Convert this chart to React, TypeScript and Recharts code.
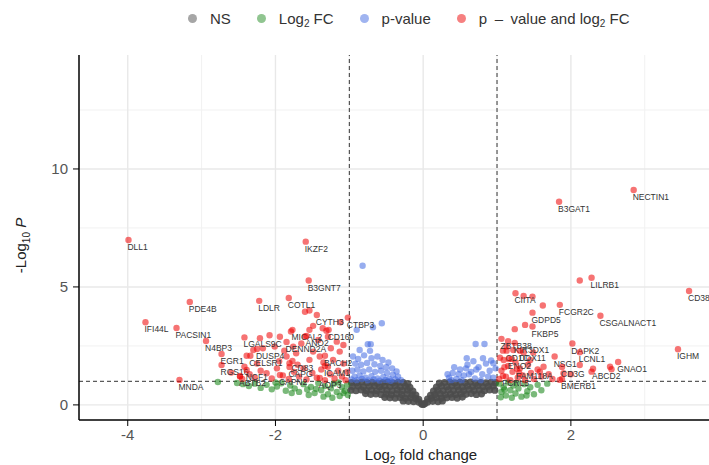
import React from "react";
import {
  CartesianGrid,
  Legend,
  ReferenceLine,
  Scatter,
  ScatterChart,
  XAxis,
  YAxis,
} from "recharts";

const xTicks = [-4, -2, 0, 2];
const yTicks = [0, 5, 10];
const xMajor = [-4, -2, 0, 2];
const xMinor = [-3, -1, 1, 3];
const yMajor = [0, 5, 10];
const yMinor = [2.5, 7.5, 12.5];
const fcCutoff = 1;
const pCutoff = 1;

// not significant
const nsPoints: [number, number][] = [
  [-0.97, 0.95], [-0.9, 0.93], [-0.83, 0.97], [-0.76, 0.94], [-0.69, 0.96], [-0.62, 0.92], [-0.55, 0.95], [-0.48, 0.97], [-0.41, 0.93], [-0.34, 0.96], [-0.27, 0.94], [-0.21, 0.9],
  [0.22, 0.92], [0.29, 0.95], [0.36, 0.97], [0.43, 0.93], [0.5, 0.96], [0.57, 0.94], [0.64, 0.97], [0.71, 0.92], [0.78, 0.95], [0.85, 0.93], [0.92, 0.96], [0.98, 0.94],
  [-0.96, 0.78], [-0.88, 0.8], [-0.81, 0.76], [-0.73, 0.79], [-0.66, 0.81], [-0.59, 0.77], [-0.52, 0.8], [-0.45, 0.78], [-0.38, 0.82], [-0.31, 0.76], [-0.24, 0.79], [-0.18, 0.74],
  [0.18, 0.75], [0.25, 0.8], [0.32, 0.77], [0.39, 0.81], [0.46, 0.78], [0.53, 0.76], [0.6, 0.8], [0.67, 0.78], [0.74, 0.82], [0.81, 0.77], [0.88, 0.79], [0.95, 0.8],
  [-0.98, 0.62], [-0.91, 0.6], [-0.84, 0.64], [-0.77, 0.61], [-0.7, 0.63], [-0.63, 0.6], [-0.56, 0.65], [-0.49, 0.62], [-0.42, 0.6], [-0.35, 0.64], [-0.28, 0.61], [-0.21, 0.63], [-0.14, 0.58],
  [0.14, 0.58], [0.2, 0.62], [0.27, 0.6], [0.34, 0.64], [0.41, 0.61], [0.48, 0.63], [0.55, 0.6], [0.62, 0.65], [0.69, 0.61], [0.76, 0.63], [0.83, 0.6], [0.9, 0.64], [0.97, 0.62],
  [-0.78, 0.48], [-0.71, 0.45], [-0.64, 0.47], [-0.57, 0.44], [-0.5, 0.46], [-0.43, 0.43], [-0.36, 0.47], [-0.29, 0.44], [-0.22, 0.46], [-0.15, 0.43], [-0.1, 0.42],
  [0.1, 0.41], [0.16, 0.44], [0.23, 0.47], [0.3, 0.43], [0.37, 0.46], [0.44, 0.44], [0.51, 0.47], [0.58, 0.45], [0.65, 0.48], [0.72, 0.44], [0.79, 0.47],
  [-0.52, 0.32], [-0.45, 0.3], [-0.38, 0.29], [-0.31, 0.31], [-0.24, 0.28], [-0.17, 0.3], [-0.1, 0.27], [-0.06, 0.24],
  [0.06, 0.25], [0.11, 0.28], [0.18, 0.31], [0.25, 0.29], [0.32, 0.3], [0.39, 0.32], [0.46, 0.29], [0.53, 0.33],
  [-0.27, 0.17], [-0.2, 0.15], [-0.13, 0.14], [-0.06, 0.12], [0.06, 0.12], [0.13, 0.15], [0.2, 0.14], [0.26, 0.17],
  [-0.02, 0.04], [0.02, 0.05], [0.0, 0.02],
];

// |log2FC| > 1 only
const fcPoints: [number, number][] = [
  [-2.78, 0.97], [-2.52, 0.93], [-2.44, 0.88], [-2.36, 0.8], [-2.28, 0.9], [-2.2, 0.72], [-2.12, 0.85], [-2.05, 0.66], [-1.98, 0.78], [-1.92, 0.92],
  [-1.86, 0.6], [-1.8, 0.82], [-1.74, 0.7], [-1.68, 0.55], [-1.62, 0.88], [-1.57, 0.65], [-1.52, 0.76], [-1.47, 0.5], [-1.42, 0.93], [-1.38, 0.62],
  [-1.33, 0.8], [-1.29, 0.45], [-1.25, 0.7], [-1.21, 0.9], [-1.17, 0.55], [-1.13, 0.38], [-1.1, 0.75], [-1.06, 0.6], [-1.03, 0.85], [-1.02, 0.42],
  [-1.15, 0.95], [-1.35, 0.35], [-1.55, 0.42], [-1.78, 0.5], [-2.0, 0.95], [-1.45, 0.68], [-1.23, 0.3], [-1.08, 0.5],
  [1.03, 0.9], [1.06, 0.55], [1.09, 0.75], [1.12, 0.4], [1.15, 0.95], [1.18, 0.62], [1.22, 0.82], [1.25, 0.48], [1.29, 0.7], [1.33, 0.35],
  [1.37, 0.88], [1.41, 0.58], [1.45, 0.75], [1.5, 0.45], [1.55, 0.85], [1.6, 0.62], [1.05, 0.32], [1.2, 0.3], [1.4, 0.4], [1.68, 0.9],
  [1.1, 0.65], [1.27, 0.93],
];

// p-value only
const pPoints: [number, number][] = [
  [-0.82, 5.9], [-0.56, 3.46], [-0.68, 3.29], [-0.9, 3.18], [-0.75, 2.57], [-0.71, 2.57], [-0.72, 2.29], [-0.86, 2.33],
  [-0.95, 2.05], [-0.88, 1.95], [-0.8, 2.1], [-0.7, 1.98], [-0.62, 2.05], [-0.55, 1.9], [-0.47, 1.8], [-0.92, 1.75], [-0.84, 1.7], [-0.76, 1.78],
  [-0.66, 1.72], [-0.58, 1.65], [-0.5, 1.6], [-0.42, 1.55], [-0.36, 1.42], [-0.96, 1.45], [-0.89, 1.5], [-0.81, 1.42], [-0.73, 1.5], [-0.65, 1.4],
  [-0.57, 1.45], [-0.49, 1.35], [-0.41, 1.28], [-0.34, 1.2], [-0.93, 1.2], [-0.86, 1.25], [-0.78, 1.15], [-0.7, 1.22], [-0.62, 1.12], [-0.54, 1.18],
  [-0.46, 1.1], [-0.38, 1.08], [-0.97, 1.08], [-0.9, 1.05], [-0.83, 1.1], [-0.75, 1.04], [-0.67, 1.08], [-0.59, 1.03], [-0.51, 1.06], [-0.44, 1.02], [-0.3, 1.05],
  [0.71, 2.58], [0.83, 2.58], [0.59, 1.98], [0.81, 1.98], [0.95, 1.77],
  [0.35, 1.15], [0.4, 1.35], [0.45, 1.1], [0.5, 1.5], [0.55, 1.25], [0.6, 1.7], [0.65, 1.4], [0.7, 1.12], [0.75, 1.6], [0.8, 1.3],
  [0.85, 1.75], [0.9, 1.45], [0.95, 1.15], [0.98, 1.55], [0.42, 1.6], [0.52, 1.05], [0.62, 1.3], [0.68, 1.85], [0.72, 1.5], [0.78, 1.05],
  [0.88, 1.2], [0.92, 1.88], [0.48, 1.3], [0.58, 1.55], [0.38, 1.05], [0.33, 1.3],
];

// p-value and log2FC, unlabelled
const bothPoints: [number, number][] = [
  [-1.6, 3.95], [-1.54, 4.0], [-1.12, 3.5], [-1.49, 3.35], [-1.36, 3.25], [-1.79, 3.11], [-1.94, 2.89], [-1.54, 3.18], [-1.31, 3.14],
  [-2.21, 2.83], [-2.01, 2.47], [-2.17, 2.4], [-2.3, 2.33], [-2.39, 2.08], [-2.42, 1.62], [-2.48, 1.2], [-2.6, 1.37], [-2.12, 1.34],
  [-1.81, 1.77], [-1.72, 2.19], [-1.76, 2.47], [-1.85, 2.05], [-1.54, 1.91], [-1.49, 2.26], [-1.4, 2.05], [-1.29, 1.62], [-1.22, 1.91], [-1.13, 2.26],
  [-1.29, 2.89], [-1.17, 2.68], [-1.08, 2.54],
  [-2.45, 1.1], [-2.35, 1.3], [-2.28, 1.15], [-2.2, 1.45], [-2.05, 1.12], [-1.98, 1.55], [-1.9, 1.25], [-1.82, 1.1], [-1.75, 1.4], [-1.68, 1.2],
  [-1.62, 1.55], [-1.58, 1.08], [-1.5, 1.35], [-1.44, 1.15], [-1.38, 1.5], [-1.33, 1.05], [-1.26, 1.3], [-1.2, 1.12], [-1.15, 1.45], [-1.1, 1.2],
  [-1.05, 1.05], [-1.03, 1.4], [-1.7, 1.7], [-1.95, 1.85], [-2.25, 1.75], [-1.35, 1.8], [-1.08, 1.75], [-1.65, 2.6], [-1.42, 2.75], [-1.25, 2.4],
  [-2.08, 2.95], [-1.88, 2.3], [-1.6, 2.9],
  [2.12, 5.27], [1.36, 4.62], [1.48, 4.59], [1.62, 4.21], [1.38, 3.39], [1.24, 3.21], [1.36, 2.22], [1.49, 2.22], [1.13, 2.47], [1.22, 2.33],
  [2.53, 1.62], [2.55, 1.51], [2.12, 1.69], [2.28, 1.41], [1.9, 1.34], [1.58, 1.41], [1.63, 1.62], [1.85, 1.06],
  [1.03, 1.1], [1.06, 1.45], [1.09, 1.9], [1.12, 1.2], [1.15, 1.65], [1.18, 1.05], [1.21, 1.4], [1.25, 1.8], [1.28, 1.15], [1.31, 1.55],
  [1.35, 1.25], [1.38, 1.05], [1.42, 1.7], [1.46, 1.35], [1.5, 1.1], [1.55, 1.5], [1.6, 1.2], [1.04, 2.0], [1.1, 1.6], [1.2, 1.95],
  [1.3, 1.35], [1.45, 1.9], [1.7, 1.3], [1.75, 1.1], [2.0, 1.3], [1.15, 2.7], [1.08, 2.3],
];

const geneNames = [
  "DLL1", "IKZF2", "B3GNT7", "COTL1", "LDLR", "PDE4B", "CYTH3", "IFI44L", "PACSIN1", "N4BP3",
  "LGALS9C", "MICAL2", "CD160", "ANO2", "DENND2A", "CTBP3", "EGR1", "DUSP4", "CELSR1", "RGS16",
  "NCF1", "CD83", "CAPG", "BACH2", "ICAM1", "ABTB2", "CAPN2", "AQP3", "MNDA",
  "NECTIN1", "B3GAT1", "LILRB1", "CD38", "CIITA", "FCGR2C", "GDPD5", "CSGALNACT1", "FKBP5", "ZBTB38",
  "DAPK2", "IGHM", "LCNL1", "GNAO1", "NSG1", "KIR3DX1", "DDX11", "CD1C", "ENO2", "FAM118A",
  "CD3G", "ABCD2", "BMERB1", "FCRL5",
];
const geneFC = [
  -3.99, -1.59, -1.55, -1.82, -2.22, -3.16, -1.44, -3.76, -3.34, -2.94,
  -2.42, -1.77, -1.28, -1.58, -1.85, -1.02, -2.73, -2.25, -2.34, -2.73,
  -2.39, -1.77, -1.81, -1.33, -1.33, -2.48, -1.94, -1.4, -3.3,
  2.85, 1.84, 2.28, 3.6, 1.25, 1.85, 1.48, 2.4, 1.48, 1.06,
  2.02, 3.45, 2.12, 2.64, 1.78, 1.24, 1.31, 1.13, 1.16, 1.27,
  1.88, 2.3, 1.88, 1.08,
];
const geneP = [
  6.99, 6.92, 5.27, 4.53, 4.41, 4.36, 3.81, 3.5, 3.26, 2.71,
  2.86, 3.18, 3.18, 2.92, 2.67, 3.7, 2.16, 2.37, 2.08, 1.69,
  1.48, 1.86, 1.61, 2.08, 1.65, 1.23, 1.27, 1.14, 1.06,
  9.11, 8.61, 5.39, 4.83, 4.73, 4.24, 3.91, 3.78, 3.32, 2.8,
  2.6, 2.36, 2.23, 1.82, 2.05, 2.63, 2.29, 2.3, 1.95, 1.53,
  1.61, 1.53, 1.1, 1.23,
];

const toPts = (arr: [number, number][]) => arr.map(([x, y]) => ({ x, y }));
const genes = geneNames.map((gene, i) => ({ gene, x: geneFC[i], y: geneP[i] }));

const colors = {
  ns: "#4d4d4d",
  fc: "#228B22",
  p: "#4169E1",
  both: "#EE0000",
};

const sub = { fontSize: 10, verticalAlign: "-3px", lineHeight: 0 };
const legendItems = [
  { key: "ns", dot: "#a6a6a6", label: <>NS</> },
  { key: "fc", dot: "#90c590", label: <>Log<span style={sub}>2</span> FC</> },
  { key: "p", dot: "#a0b4f0", label: <>p-value</> },
  { key: "both", dot: "#f68080", label: <>p{"\u2002–\u2002"}value and log<span style={sub}>2</span> FC</> },
];

const dot = (fill: string, opacity: number, r = 3.2) => (props: any) => (
  <circle cx={props.cx} cy={props.cy} r={r} fill={fill} fillOpacity={opacity} />
);

function GeneMark(props: any) {
  const { cx, cy, payload } = props;
  return (
    <g>
      <circle cx={cx} cy={cy} r={3.2} fill={colors.both} fillOpacity={0.55} />
      <text x={cx - 1} y={cy + 10} fontSize={8.5} fill="#333" fontFamily="Liberation Sans, Arial, sans-serif">
        {payload.gene}
      </text>
    </g>
  );
}

function TopLegend() {
  return (
    <div style={{ display: "flex", alignItems: "center", paddingLeft: 188, fontSize: 15, color: "#333", height: 20 }}>
      {legendItems.map((item) => (
        <div key={item.key} style={{ display: "flex", alignItems: "center", marginRight: 26 }}>
          <span style={{ width: 9, height: 9, borderRadius: 5, background: item.dot, marginRight: 13, display: "inline-block" }} />
          <span>{item.label}</span>
        </div>
      ))}
    </div>
  );
}

function YTitle(props: any) {
  const vb = props.viewBox || { x: 0, y: 55, width: 79, height: 365 };
  const cx = 26;
  const cy = vb.y + vb.height / 2 + 8;
  return (
    <text x={cx} y={cy} transform={`rotate(-90, ${cx}, ${cy})`} textAnchor="middle" fontSize={15} fill="#222">
      <tspan>-Log</tspan>
      <tspan dy={4} fontSize={10}>10</tspan>
      <tspan dy={-4} fontStyle="italic"> P</tspan>
    </text>
  );
}

function XTitle(props: any) {
  const vb = props.viewBox || { x: 79, y: 420, width: 630, height: 45 };
  return (
    <text x={vb.x + 342} y={vb.y + 40} textAnchor="middle" fontSize={15} fill="#222">
      <tspan>Log</tspan>
      <tspan dy={4} fontSize={10}>2</tspan>
      <tspan dy={-4}> fold change</tspan>
    </text>
  );
}

export default function App() {
  const axisTick = { fontSize: 15, fill: "#555" };
  return (
    <div style={{ position: "absolute", left: 0, top: 0, fontFamily: "Liberation Sans, Arial, sans-serif", background: "#fff" }}>
      <ScatterChart width={709} height={465} margin={{ top: 35, right: 0, bottom: 0, left: 0 }}>
        <CartesianGrid stroke="#f1f1f1" strokeWidth={1} verticalValues={xMinor} horizontalValues={yMinor} />
        <CartesianGrid stroke="#e8e8e8" strokeWidth={1.4} verticalValues={xMajor} horizontalValues={yMajor} />
        <XAxis
          type="number"
          dataKey="x"
          domain={[-4.66, 3.87]}
          ticks={xTicks}
          allowDataOverflow
          height={45}
          tick={axisTick}
          tickSize={6}
          tickMargin={3}
          tickLine={{ stroke: "#000" }}
          axisLine={{ stroke: "#000", strokeWidth: 1.5 }}
          label={<XTitle />}
        />
        <YAxis
          type="number"
          dataKey="y"
          domain={[-0.64, 14.83]}
          ticks={yTicks}
          allowDataOverflow
          width={79}
          tick={axisTick}
          tickSize={6}
          tickMargin={5}
          tickLine={{ stroke: "#000" }}
          axisLine={{ stroke: "#000", strokeWidth: 1.5 }}
          label={<YTitle />}
        />
        <Legend verticalAlign="top" content={<TopLegend />} wrapperStyle={{ top: 8, left: 0, width: 709 }} />
        <Scatter name="NS" data={toPts(nsPoints)} shape={dot(colors.ns, 0.9, 3.6)} isAnimationActive={false} />
        <Scatter name="Log2 FC" data={toPts(fcPoints)} shape={dot(colors.fc, 0.6)} isAnimationActive={false} />
        <Scatter name="p-value" data={toPts(pPoints)} shape={dot(colors.p, 0.55)} isAnimationActive={false} />
        <Scatter name="p - value and log2 FC" data={toPts(bothPoints)} shape={dot(colors.both, 0.55)} isAnimationActive={false} />
        <Scatter name="labels" legendType="none" data={genes} shape={GeneMark} isAnimationActive={false} />
        <ReferenceLine x={-fcCutoff} stroke="#333" strokeDasharray="4 3" />
        <ReferenceLine x={fcCutoff} stroke="#333" strokeDasharray="4 3" />
        <ReferenceLine y={pCutoff} stroke="#333" strokeDasharray="4 3" />
      </ScatterChart>
    </div>
  );
}
